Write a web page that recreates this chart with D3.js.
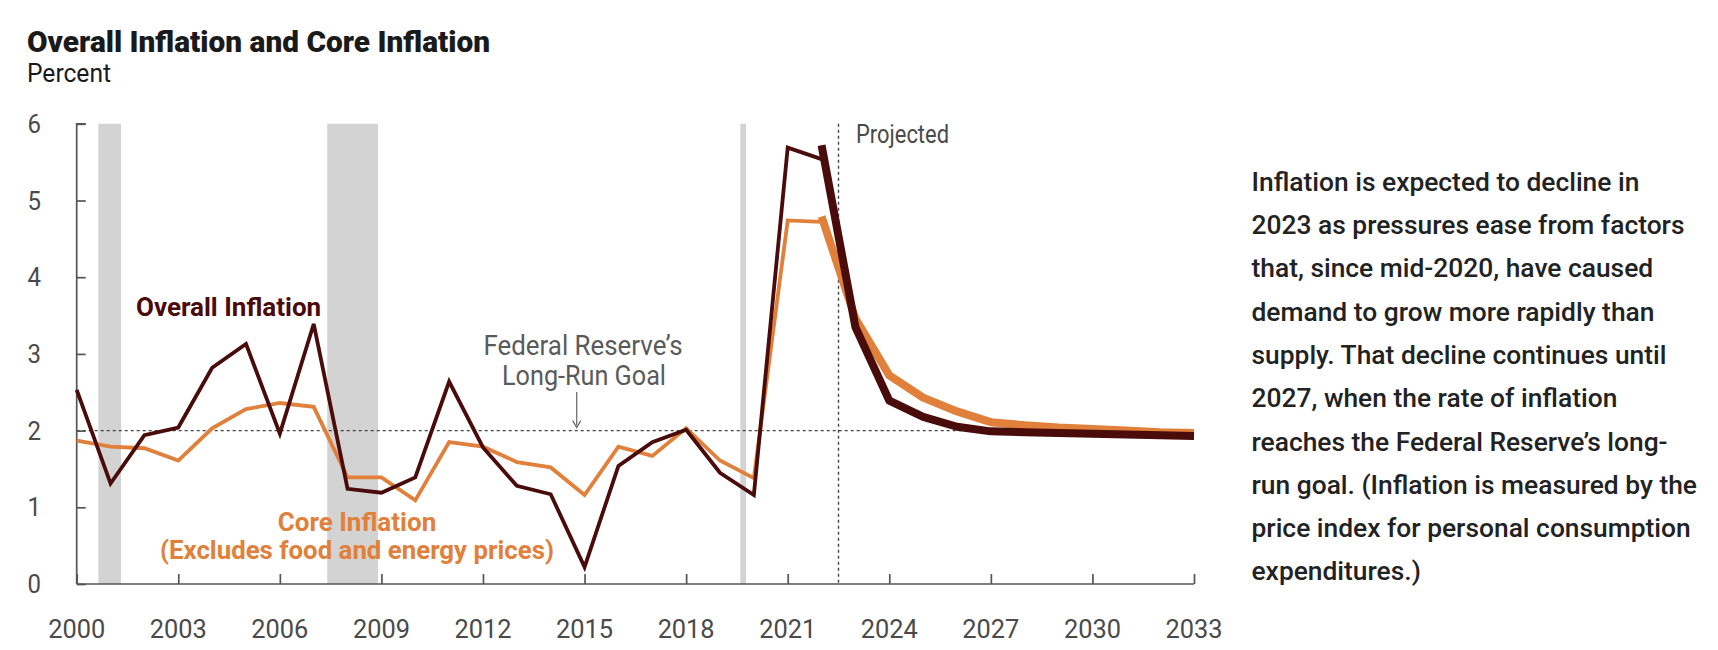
<!DOCTYPE html>
<html><head><meta charset="utf-8">
<script src="https://cdn.jsdelivr.net/npm/d3@7"></script>
<style>
html,body{margin:0;padding:0;background:#fff;}
svg{display:block;font-family:Roboto,"Noto Sans",sans-serif;}
</style></head>
<body><svg id="c" width="1718" height="650"></svg>
<script>
// ---- data ----
const histYears = [2000,2001,2002,2003,2004,2005,2006,2007,2008,2009,2010,2011,2012,2013,2014,2015,2016,2017,2018,2019,2020,2021,2022];
const overallHist = [2.53,1.31,1.94,2.04,2.82,3.13,1.96,3.39,1.24,1.19,1.39,2.64,1.78,1.28,1.17,0.22,1.54,1.85,2.01,1.45,1.16,5.69,5.54];
const coreHist = [1.87,1.79,1.77,1.61,2.03,2.28,2.36,2.31,1.39,1.39,1.09,1.85,1.79,1.59,1.52,1.16,1.79,1.67,2.03,1.61,1.38,4.74,4.72];
const projYears = [2022,2023,2024,2025,2026,2027,2028,2029,2030,2031,2032,2033];
const overallProj = [5.72,3.35,2.39,2.18,2.05,1.99,1.98,1.97,1.96,1.95,1.94,1.93];
const coreProj = [4.79,3.46,2.72,2.43,2.25,2.11,2.07,2.04,2.02,2.00,1.98,1.97];
const recessionStart = [2000.64,2007.40,2019.60];
const recessionEnd = [2001.31,2008.90,2019.77];
const xTicks = [2000,2003,2006,2009,2012,2015,2018,2021,2024,2027,2030,2033];
const yTicks = [0,1,2,3,4,5,6];
const goal = 2;
const projectedFrom = 2022.5;
const noteLines = [
 "Inflation is expected to decline in",
 "2023 as pressures ease from factors",
 "that, since mid-2020, have caused",
 "demand to grow more rapidly than",
 "supply. That decline continues until",
 "2027, when the rate of inflation",
 "reaches the Federal Reserve\u2019s long-",
 "run goal. (Inflation is measured by the",
 "price index for personal consumption",
 "expenditures.)"
];

// ---- chart ----
const svg = d3.select("#c");
const MAROON = "#4a0b0b", ORANGE = "#e0803a", AXIS = "#555", GRAYTXT = "#4a4a4a";
const x = d3.scaleLinear().domain([2000,2033]).range([76.7,1194]);
const y = d3.scaleLinear().domain([0,6]).range([584,123.8]);

function fit(sel, target){
  const w = sel.node().getComputedTextLength();
  if (Math.abs(w-target) > 1) sel.attr("textLength", target).attr("lengthAdjust","spacingAndGlyphs");
  return sel;
}

// recession bars
svg.append("g").selectAll("rect").data(recessionStart).join("rect")
  .attr("x", d => x(d))
  .attr("width", (d,i) => x(recessionEnd[i]) - x(d))
  .attr("y", y(6)).attr("height", y(0)-y(6))
  .attr("fill", "#d3d3d3");

// goal line
svg.append("line").attr("x1", x(2000)).attr("x2", x(2033))
  .attr("y1", y(goal)).attr("y2", y(goal))
  .attr("stroke", "#444").attr("stroke-width", 1.4).attr("stroke-dasharray", "3,3");

// projected line
svg.append("line").attr("x1", x(projectedFrom)).attr("x2", x(projectedFrom))
  .attr("y1", y(6)).attr("y2", y(0))
  .attr("stroke", "#444").attr("stroke-width", 1.4).attr("stroke-dasharray", "3,3");

// axes
const yAxis = d3.axisRight(y).tickValues(yTicks).tickSize(9).tickFormat("");
const gy = svg.append("g").attr("transform", `translate(${x(2000)},0)`).call(yAxis);
gy.select(".domain").attr("d", `M9,${y(6)}H0V${y(0)}`);
gy.selectAll("line, path").attr("stroke", AXIS).attr("stroke-width", 1.7);

const xAxis = d3.axisTop(x).tickValues(xTicks).tickSize(10).tickFormat("");
const gx = svg.append("g").attr("transform", `translate(0,${y(0)})`).call(xAxis);
gx.select(".domain").attr("d", `M${x(2000)},0H${x(2033)}`);
gx.selectAll("line, path").attr("stroke", AXIS).attr("stroke-width", 1.7);

// tick labels
svg.append("g").selectAll("text").data(yTicks).join("text")
  .attr("x", 41).attr("y", d => y(d) + 9)
  .attr("text-anchor", "end").attr("font-size", 26).attr("fill", GRAYTXT)
  .text(d => d)
  .each(function(){ fit(d3.select(this), 13.5); });
svg.append("g").selectAll("text").data(xTicks).join("text")
  .attr("x", d => x(d)).attr("y", 638)
  .attr("text-anchor", "middle").attr("font-size", 26).attr("fill", GRAYTXT)
  .text(d => d)
  .each(function(){ fit(d3.select(this), 57); });

// lines
const line = d3.line().x(d => x(d[0])).y(d => y(d[1]));
const pairs = (xs, vs) => xs.map((d,i) => [d, vs[i]]);
svg.append("path").attr("d", line(pairs(histYears, coreHist)))
  .attr("fill","none").attr("stroke",ORANGE).attr("stroke-width",3.8).attr("stroke-linejoin","miter");
svg.append("path").attr("d", line(pairs(histYears, overallHist)))
  .attr("fill","none").attr("stroke",MAROON).attr("stroke-width",3.8).attr("stroke-linejoin","miter");
svg.append("path").attr("d", line(pairs(projYears, coreProj)))
  .attr("fill","none").attr("stroke",ORANGE).attr("stroke-width",8).attr("stroke-linejoin","round");
svg.append("path").attr("d", line(pairs(projYears, overallProj)))
  .attr("fill","none").attr("stroke",MAROON).attr("stroke-width",8).attr("stroke-linejoin","round");

// title
fit(svg.append("text").attr("x", 27).attr("y", 52).attr("font-size", 30).attr("font-weight", 900)
  .attr("fill", "#1a1a1a").text("Overall Inflation and Core Inflation"), 463);
fit(svg.append("text").attr("x", 27).attr("y", 82).attr("font-size", 25)
  .attr("fill", "#1a1a1a").text("Percent"), 84);

// labels
fit(svg.append("text").attr("x", 136).attr("y", 316).attr("font-size", 26).attr("font-weight", 700)
  .attr("fill", MAROON).text("Overall Inflation"), 185);
fit(svg.append("text").attr("x", 357).attr("y", 531).attr("text-anchor","middle").attr("font-size", 26).attr("font-weight", 700)
  .attr("fill", ORANGE).text("Core Inflation"), 159);
fit(svg.append("text").attr("x", 357).attr("y", 559).attr("text-anchor","middle").attr("font-size", 26).attr("font-weight", 700)
  .attr("fill", ORANGE).text("(Excludes food and energy prices)"), 394);
fit(svg.append("text").attr("x", 583).attr("y", 355).attr("text-anchor","middle").attr("font-size", 28)
  .attr("fill", "#5a5a5a").text("Federal Reserve\u2019s"), 199);
fit(svg.append("text").attr("x", 584).attr("y", 385).attr("text-anchor","middle").attr("font-size", 28)
  .attr("fill", "#5a5a5a").text("Long-Run Goal"), 164);
// arrow
svg.append("line").attr("x1", 576.7).attr("x2", 576.7).attr("y1", 392).attr("y2", y(goal) - 5)
  .attr("stroke", "#666").attr("stroke-width", 1.2);
svg.append("path").attr("d", `M572.7,${y(goal)-10}L576.7,${y(goal)-3}L580.7,${y(goal)-10}`)
  .attr("fill","none").attr("stroke", "#666").attr("stroke-width", 1.2);
fit(svg.append("text").attr("x", 856).attr("y", 143).attr("font-size", 25)
  .attr("fill", GRAYTXT).text("Projected"), 93);

// note
const note = svg.append("g");
const nl = note.selectAll("text").data(noteLines).join("text")
  .attr("x", 1251.5).attr("y", (d,i) => 190.7 + i*43.3)
  .attr("font-size", 25.5).attr("font-weight", 500).attr("fill", "#222")
  .text(d => d);
const ratio = 433 / nl.filter((d,i) => i===1).node().getComputedTextLength();
nl.each(function(){ const s=d3.select(this); s.attr("textLength", s.node().getComputedTextLength()*ratio).attr("lengthAdjust","spacingAndGlyphs"); });
</script></body></html>
